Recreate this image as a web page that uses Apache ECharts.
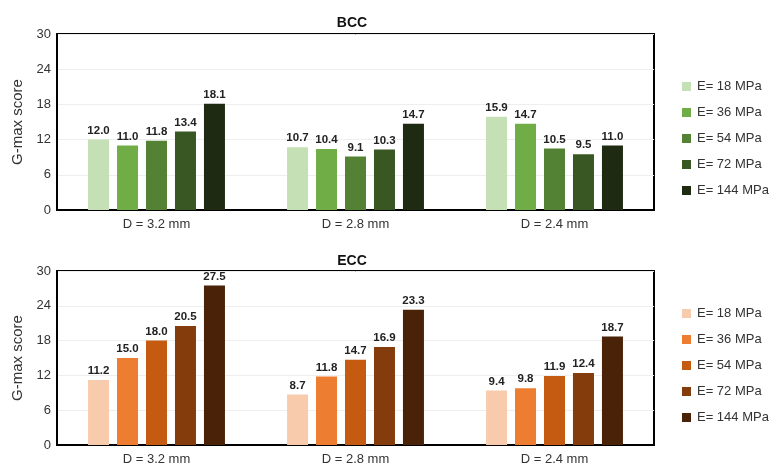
<!DOCTYPE html>
<html>
<head>
<meta charset="utf-8">
<script src="https://cdn.jsdelivr.net/npm/echarts@6/dist/echarts.min.js"></script>
<style>html,body{margin:0;padding:0;background:#fff}#c{width:770px;height:466px}</style>
</head>
<body>
<div id="c"></div>
<script>
const categories = ['D = 3.2 mm', 'D = 2.8 mm', 'D = 2.4 mm'];
const moduli = ['E= 18 MPa', 'E= 36 MPa', 'E= 54 MPa', 'E= 72 MPa', 'E= 144 MPa'];
const yTicks = [0, 6, 12, 18, 24, 30];
const bccValues = [
  [12.0, 10.7, 15.9],
  [11.0, 10.4, 14.7],
  [11.8, 9.1, 10.5],
  [13.4, 10.3, 9.5],
  [18.1, 14.7, 11.0]
];
const eccValues = [
  [11.2, 8.7, 9.4],
  [15.0, 11.8, 9.8],
  [18.0, 14.7, 11.9],
  [20.5, 16.9, 12.4],
  [27.5, 23.3, 18.7]
];
const greenColors = ['#c5e0b4', '#70ad47', '#548235', '#385723', '#1f2a13'];
const orangeColors = ['#f8cbad', '#ed7d31', '#c55a11', '#843c0c', '#4a2207'];

const FONT = 'Arial, "Liberation Sans", sans-serif';
const chart = echarts.init(document.getElementById('c'));

function makeX(gi) {
  return {
    type: 'category', gridIndex: gi, data: categories,
    axisLine: { show: true, lineStyle: { color: '#000', width: 2 } },
    axisTick: { show: false },
    axisLabel: { color: '#333', fontSize: 13, fontFamily: FONT, margin: 8 }
  };
}
function makeY(gi) {
  return {
    type: 'value', gridIndex: gi, min: yTicks[0], max: yTicks[yTicks.length - 1], interval: 6,
    name: 'G-max score', nameLocation: 'middle', nameGap: 22,
    nameTextStyle: { color: '#333', fontSize: 15, fontFamily: FONT },
    axisLine: { show: true, lineStyle: { color: '#000', width: 2 } },
    axisTick: { show: false },
    axisLabel: { color: '#333', fontSize: 13, fontFamily: FONT, margin: 6 },
    splitLine: { show: true, lineStyle: { color: '#eeeeee', width: 1 } }
  };
}
const series = [];
moduli.forEach((m, i) => {
  series.push({
    name: 'B|' + m, type: 'bar', xAxisIndex: 0, yAxisIndex: 0,
    data: bccValues[i], barWidth: 21, barGap: '38%',
    itemStyle: { color: greenColors[i] },
    label: { show: true, position: 'top', distance: 3, color: '#222', fontSize: 11.5, fontWeight: 'bold', fontFamily: FONT,
      formatter: p => p.value.toFixed(1) }
  });
});
moduli.forEach((m, i) => {
  series.push({
    name: 'E|' + m, type: 'bar', xAxisIndex: 1, yAxisIndex: 1,
    data: eccValues[i], barWidth: 21, barGap: '38%',
    itemStyle: { color: orangeColors[i] },
    label: { show: true, position: 'top', distance: 3, color: '#222', fontSize: 11.5, fontWeight: 'bold', fontFamily: FONT,
      formatter: p => p.value.toFixed(1) }
  });
});
const legendCommon = {
  orient: 'vertical', left: 682, padding: 0, itemWidth: 9, itemHeight: 9, itemGap: 13,
  icon: 'rect', selectedMode: false,
  textStyle: { color: '#333', fontSize: 13, fontFamily: FONT, padding: [0, 0, 0, 1], overflow: 'none' },
  formatter: n => n.split('|')[1]
};
chart.setOption({
  animation: false,
  backgroundColor: '#fff',
  title: [
    { text: 'BCC', left: 347, top: 11, textAlign: 'center', textStyle: { fontSize: 14, fontWeight: 'bold', color: '#111', fontFamily: FONT } },
    { text: 'ECC', left: 347, top: 249, textAlign: 'center', textStyle: { fontSize: 14, fontWeight: 'bold', color: '#111', fontFamily: FONT } }
  ],
  legend: [
    Object.assign({}, legendCommon, { top: 80, data: moduli.map(m => 'B|' + m) }),
    Object.assign({}, legendCommon, { top: 307, data: moduli.map(m => 'E|' + m) })
  ],
  grid: [
    { left: 57, right: 116, top: 34, bottom: 256, show: true, borderColor: '#000', borderWidth: 2 },
    { left: 57, right: 116, top: 271, bottom: 20, show: true, borderColor: '#000', borderWidth: 2 }
  ],
  xAxis: [makeX(0), makeX(1)],
  yAxis: [makeY(0), makeY(1)],
  series: series
});
</script>
</body>
</html>
